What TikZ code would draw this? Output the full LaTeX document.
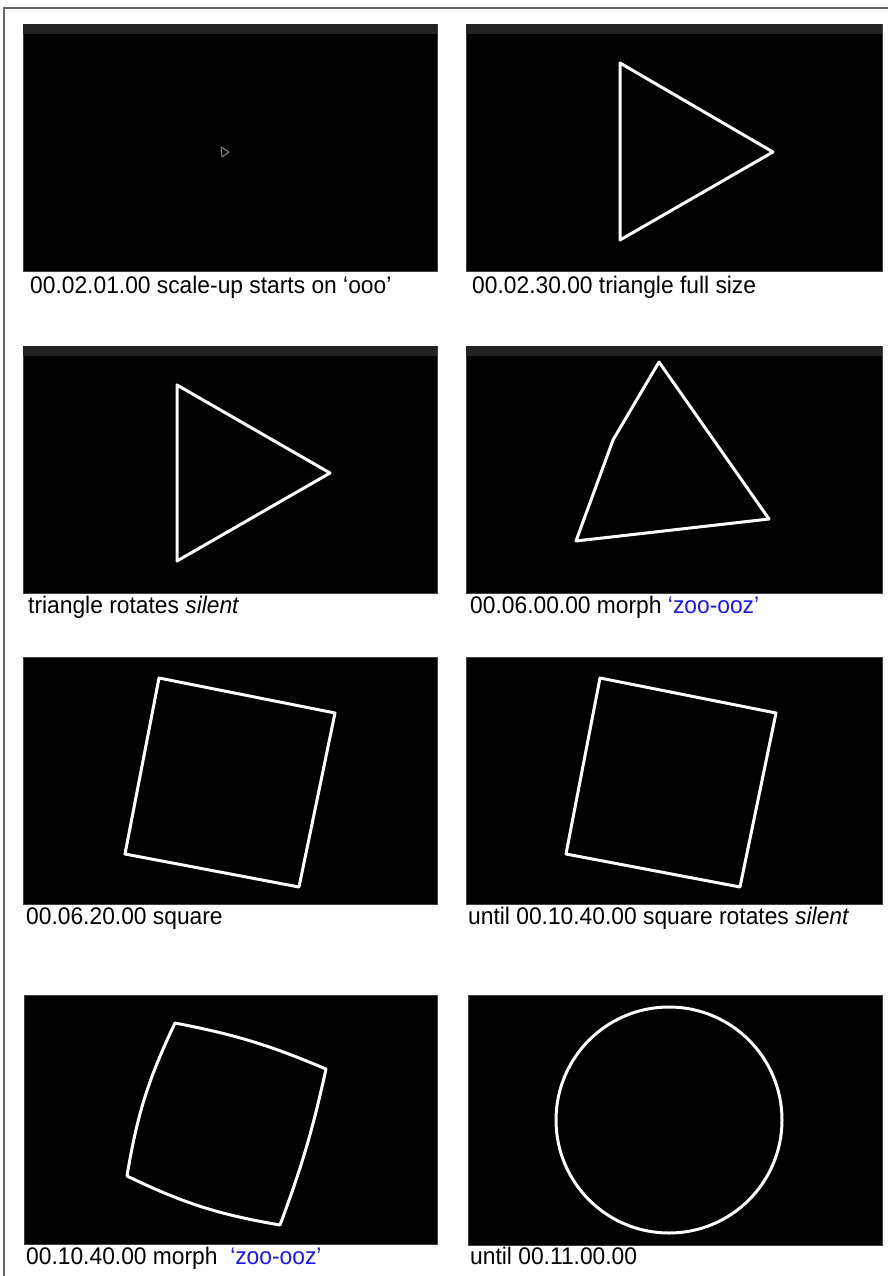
\documentclass[tikz,border=0pt]{standalone}
\usepackage{fontspec}
\newfontfamily\labfont{Liberation Sans}[FakeStretch=0.95]
\definecolor{strip}{HTML}{222222}
\definecolor{zblue}{RGB}{25,25,235}
\begin{document}
\begin{tikzpicture}[x=1pt,y=-1pt,
  panel/.style={fill=black,draw=black!75,line width=0.8pt},
  stripbar/.style={fill=strip},
  wshape/.style={draw=white,line width=3pt,line join=round},
  lab/.style={anchor=base west,inner sep=0pt,font=\labfont\fontsize{24}{26}\selectfont}]
\useasboundingbox (0,0) rectangle (888,1276);
\fill[white] (0,0) rectangle (888,1276);
\draw[black!60,line width=1.5pt] (4,1276) -- (4,8) -- (888,8);

% row 1
\filldraw[panel] (23,24) rectangle (437,271);
\fill[stripbar] (23,24) rectangle (437,34);
\filldraw[panel] (466,24) rectangle (882,271);
\fill[stripbar] (466,24) rectangle (882,34);
% row 2
\filldraw[panel] (23,346) rectangle (437,593);
\fill[stripbar] (23,346) rectangle (437,356);
\filldraw[panel] (466,346) rectangle (882,593);
\fill[stripbar] (466,346) rectangle (882,356);
% row 3
\filldraw[panel] (23,657) rectangle (437,904);
\filldraw[panel] (466,657) rectangle (882,904);
% row 4
\filldraw[panel] (24,995) rectangle (437,1244);
\filldraw[panel] (468,995) rectangle (882,1245);

% shapes
\draw[draw=black!45,line width=1pt,line join=round] (221,147) -- (229,152) -- (222,157) -- cycle;
\draw[wshape] (620,63) -- (773,152) -- (620,240) -- cycle;
\draw[wshape] (177,385) -- (330,473) -- (177,561) -- cycle;
\draw[wshape] (659,362) -- (613,440) -- (576,541) -- (769,519) -- cycle;
\draw[wshape] (159,678) -- (335,713) -- (299,887) -- (125,854) -- cycle;
\draw[wshape] (600,678) -- (776,713) -- (740,887) -- (566,854) -- cycle;
\draw[wshape] (175,1023) to[bend left=6] (326,1069) to[bend left=4] (280,1225)
  to[bend left=8] (127,1176) to[bend left=8] (175,1023) -- cycle;
\draw[wshape] (669,1120) circle[radius=113];

% labels
\node[lab] (l1) at (30,293) {00.02.01.00 scale-up starts on ‘ooo’};
\node[lab] (l2) at (472,293) {00.02.30.00 triangle full size};
\node[lab] (l3) at (28,613) {triangle rotates \textit{silent}};
\node[lab] (l4) at (470,613) {00.06.00.00 morph \textcolor{zblue}{‘zoo-ooz’}};
\node[lab] (l5) at (26,924) {00.06.20.00 square};
\node[lab] (l6) at (468,924) {until 00.10.40.00 square rotates \textit{silent}};
\node[lab] (l7) at (26,1264) {00.10.40.00 morph\ \ \textcolor{zblue}{‘zoo-ooz’}};
\node[lab] (l8) at (470,1264) {until 00.11.00.00};
\end{tikzpicture}
\end{document}
